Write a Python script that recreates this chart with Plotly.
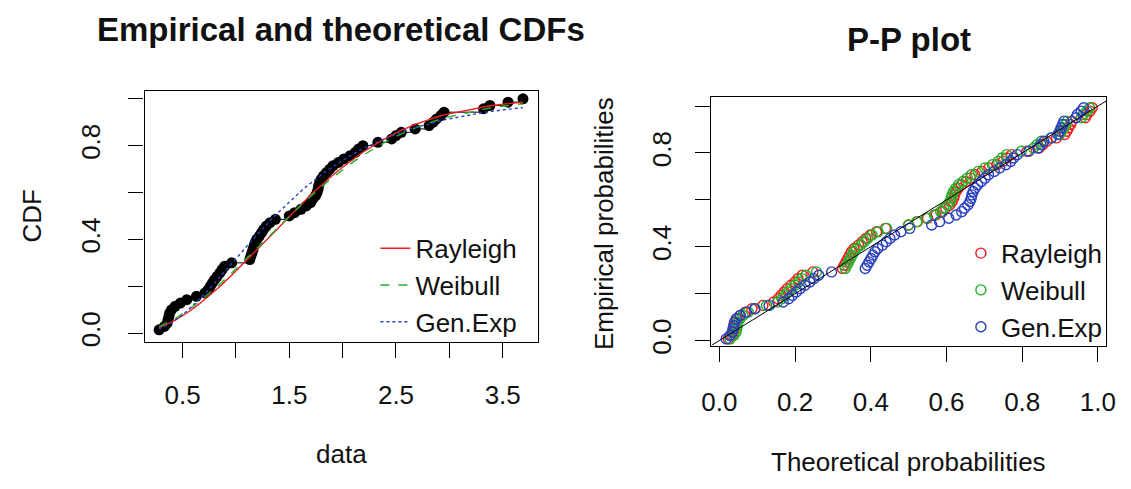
import numpy as np
import plotly.graph_objects as go

# ---------------- data ----------------
data_values = [
    0.28, 0.33, 0.356, 0.364, 0.372, 0.379, 0.397, 0.43, 0.48, 0.54,
    0.63, 0.71, 0.74, 0.76, 0.78, 0.80, 0.825, 0.85, 0.87, 0.895,
    0.96, 1.13, 1.14, 1.15, 1.16, 1.17, 1.18, 1.195, 1.22, 1.24,
    1.26, 1.285, 1.32, 1.37, 1.50, 1.55, 1.61, 1.66, 1.70, 1.72,
    1.745, 1.76, 1.77, 1.775, 1.785, 1.80, 1.82, 1.85, 1.88, 1.91,
    1.96, 2.01, 2.07, 2.12, 2.15, 2.19, 2.33, 2.46, 2.50, 2.55,
    2.68, 2.81, 2.85, 2.88, 2.92, 2.95, 3.32, 3.38, 3.55, 3.69,
]
series_names = ["Rayleigh", "Weibull", "Gen.Exp"]
series_colors = ["#F01E1E", "#22B02A", "#2A3FBF"]
series_dashes = ["solid", "dash", "dot"]

# fitted parameters (estimated from the curves)
rayleigh_sigma = 1.274
weibull_shape = 1.9
weibull_scale = 1.82
genexp_alpha = 3.2
genexp_rate = 1.2

cdf_x_ticks = [0.5, 1.0, 1.5, 2.0, 2.5, 3.0, 3.5]
cdf_x_labels = ["0.5", "", "1.5", "", "2.5", "", "3.5"]
prob_ticks = [0.0, 0.2, 0.4, 0.6, 0.8, 1.0]
prob_y_labels = ["0.0", "", "0.4", "", "0.8", ""]
prob_x_labels = ["0.0", "0.2", "0.4", "0.6", "0.8", "1.0"]

cdf_x_range = [0.144, 3.826]
cdf_y_range = [-0.036, 1.032]
pp_x_range = [-0.021, 1.022]
pp_y_range = [-0.021, 1.038]

# ---------------- derived ----------------
x = np.array(data_values)
n = len(x)
ecdf = np.arange(1, n + 1) / n
pp_emp = (np.arange(1, n + 1) - 0.5) / n

theo = [
    1 - np.exp(-x**2 / (2 * rayleigh_sigma**2)),
    1 - np.exp(-(x / weibull_scale) ** weibull_shape),
    (1 - np.exp(-genexp_rate * x)) ** genexp_alpha,
]

W, H = 1131, 489
FONT = "Liberation Sans, Arial, sans-serif"
TXT = "#111111"

fig = go.Figure()

# ECDF steps and points
fig.add_trace(go.Scatter(x=x, y=ecdf, mode="lines", line=dict(color="black", width=1, shape="hv"),
                         showlegend=False, xaxis="x", yaxis="y", hoverinfo="skip"))
fig.add_trace(go.Scatter(x=x, y=ecdf, mode="markers", marker=dict(color="black", size=11),
                         showlegend=False, xaxis="x", yaxis="y"))
for name, col, dash, t in zip(series_names, series_colors, series_dashes, theo):
    fig.add_trace(go.Scatter(x=x, y=t, mode="lines", name=name,
                             line=dict(color=col, width=1.4, dash=dash),
                             xaxis="x", yaxis="y", legend="legend"))

# P-P plot
for name, col, t in zip(series_names, series_colors, theo):
    fig.add_trace(go.Scatter(x=t, y=pp_emp, mode="markers", name=name,
                             marker=dict(symbol="circle-open", size=10, color=col, line=dict(width=1.4)),
                             xaxis="x2", yaxis="y2", legend="legend2"))

lo = min(pp_x_range[0], pp_y_range[0])
hi = max(pp_x_range[1], pp_y_range[1])
fig.add_shape(type="line", xref="x2", yref="y2", x0=lo, y0=lo, x1=hi, y1=hi,
              line=dict(color="black", width=1))

axis_common = dict(showline=True, mirror=True, linecolor="black", linewidth=1.3,
                   ticks="outside", ticklen=15, tickwidth=1.3, tickcolor="black",
                   showgrid=False, zeroline=False, tickfont=dict(size=26, color=TXT, family=FONT))

fig.update_layout(
    width=W, height=H, margin=dict(l=0, r=0, t=0, b=0),
    plot_bgcolor="white", paper_bgcolor="white",
    font=dict(family=FONT, size=26, color=TXT),
    xaxis=dict(domain=[137 / W, 537 / W], range=cdf_x_range, tickvals=cdf_x_ticks, ticktext=cdf_x_labels,
               anchor="y", ticklabelstandoff=15, **axis_common),
    yaxis=dict(domain=[(H - 348) / H, (H - 93) / H], range=cdf_y_range, tickvals=prob_ticks,
               ticktext=prob_y_labels, tickangle=-90, anchor="x", ticklabelstandoff=18, **axis_common),
    xaxis2=dict(domain=[714 / W, 1116 / W], range=pp_x_range, tickvals=prob_ticks, ticktext=prob_x_labels,
                anchor="y2", ticklabelstandoff=18, **axis_common),
    yaxis2=dict(domain=[(H - 352) / H, (H - 99) / H], range=pp_y_range, tickvals=prob_ticks,
                ticktext=prob_y_labels, tickangle=-90, anchor="x2", ticklabelstandoff=14, **axis_common),
    legend=dict(x=372 / W, y=1 - 229 / H, xanchor="left", yanchor="top", bgcolor="rgba(0,0,0,0)",
                borderwidth=0, font=dict(size=26, color=TXT, family=FONT), tracegroupgap=0),
    legend2=dict(x=968 / W, y=1 - 234 / H, xanchor="left", yanchor="top", bgcolor="rgba(0,0,0,0)",
                 borderwidth=0, font=dict(size=26, color=TXT, family=FONT), tracegroupgap=0),
    showlegend=True,
)

def ann(text, px, py, size=26, bold=False, angle=0):
    fig.add_annotation(text=("<b>%s</b>" % text) if bold else text, x=px / W, y=1 - py / H,
                       xref="paper", yref="paper", showarrow=False, textangle=angle,
                       xanchor="center", yanchor="middle", font=dict(size=size, color=TXT, family=FONT))

ann("Empirical and theoretical CDFs", 337, 30, size=33, bold=True)
ann("P-P plot", 915, 40, size=33, bold=True)
ann("data", 337, 463)
ann("CDF", 22, 220, angle=-90)
ann("Theoretical probabilities", 915, 471)
ann("Empirical probabilities", 605, 228, angle=-90)

fig.write_html("out.html")
